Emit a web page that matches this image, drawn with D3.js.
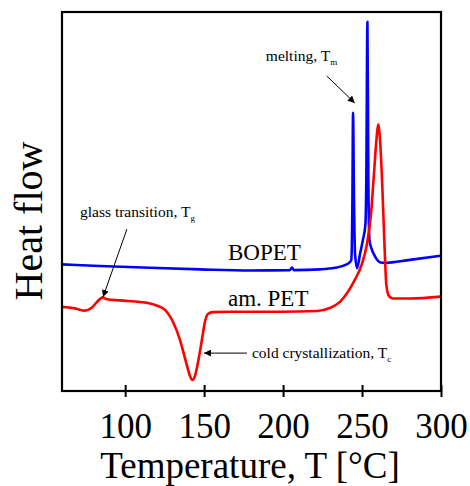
<!DOCTYPE html>
<html>
<head>
<meta charset="utf-8">
<script src="https://cdn.jsdelivr.net/npm/d3@7"></script>
<style>
  html, body { margin: 0; padding: 0; background: #fff; }
  svg { display: block; }
  text { font-family: "Liberation Serif", "Times New Roman", serif; fill: #000; }
</style>
</head>
<body>
<svg id="chart" width="470" height="486"></svg>
<script>
// DSC heating scans: heat flow (arbitrary units, endo up) vs temperature (°C)
const bopetTemp = [60, 84, 115.7, 147.3, 179, 204.3, 205.6, 206.8, 223.3, 232.8, 239.1, 242.3,
  243.2, 243.9, 244.3, 244.9, 245.6, 246.9, 248.6, 250.5, 252.1, 252.7, 253.4, 254.0, 254.7,
  255.9, 258.1, 261.3, 264.4, 280.3, 299.9];
const bopetFlow = [33.4, 33.0, 32.5, 32.1, 31.8, 31.9, 32.6, 31.9, 32.1, 32.5, 33.2, 34.0,
  34.6, 50.4, 73.4, 50.4, 35.9, 32.4, 35.9, 39.8, 43.8, 55.7, 97.4, 55.7, 39.8,
  37.7, 35.6, 34.0, 33.8, 34.6, 35.7];

const petTemp = [60, 68.2, 74.6, 79, 82.2, 85.8, 87.8, 96.7, 109.4, 118.9, 125.2, 130.3, 134.7,
  138.5, 141.0, 142.6, 144.2, 146.4, 148.6, 150.5, 152.4, 155.6, 166.3, 198, 221.4, 229.6,
  236.0, 241.0, 245.4, 249.9, 253, 255.6, 257.5, 259.1, 260.2, 261.6, 262.8, 264.1, 265.4,
  267, 269.5, 280.3, 299.9];
const petFlow = [22.2, 21.8, 21.2, 22.0, 23.5, 24.7, 24.3, 23.9, 23.5, 22.7, 21.4, 18.2, 13.5,
  7.7, 4.0, 2.9, 4.0, 8.2, 13.5, 18.2, 20.3, 20.8, 20.9, 20.9, 21.1, 21.9,
  23.5, 26.1, 29.3, 33.5, 38.5, 46.4, 57.0, 66.2, 70.4, 64.9, 54.4, 39.8, 28.0,
  25.1, 24.4, 24.4, 24.9];

const xTicks = [100, 150, 200, 250, 300];
const seriesNames = ["BOPET", "am. PET"];
const seriesColors = ["#0000ff", "#ff0000"];

const W = 470, H = 486;
const margin = { top: 12, right: 29, bottom: 95, left: 62 };
const innerW = W - margin.left - margin.right;
const innerH = H - margin.top - margin.bottom;

const svg = d3.select("#chart");
const g = svg.append("g").attr("transform", `translate(${margin.left},${margin.top})`);

const x = d3.scaleLinear().domain([60, 300]).range([0, innerW]);
const y = d3.scaleLinear().domain([0, 100]).range([innerH, 0]);

const line = d3.line()
  .x(d => x(d[0]))
  .y(d => y(d[1]))
  .curve(d3.curveMonotoneX);

const series = [
  d3.zip(bopetTemp, bopetFlow),
  d3.zip(petTemp, petFlow)
];

g.selectAll("path.trace")
  .data(series)
  .join("path")
  .attr("class", "trace")
  .attr("d", line)
  .attr("fill", "none")
  .attr("stroke", (d, i) => seriesColors[i])
  .attr("stroke-width", 2.6)
  .attr("stroke-linejoin", "round");

// Frame
g.append("rect")
  .attr("x", 0).attr("y", 0)
  .attr("width", innerW).attr("height", innerH)
  .attr("fill", "none")
  .attr("stroke", "#000")
  .attr("stroke-width", 2.2);

// Bottom axis: ticks cross the axis line
const xAxis = g.append("g")
  .attr("transform", `translate(0,${innerH})`)
  .call(d3.axisBottom(x).tickValues(xTicks).tickSize(0).tickPadding(0).tickFormat(d3.format("d")));
xAxis.select(".domain").remove();
xAxis.selectAll(".tick line")
  .attr("y1", -6).attr("y2", 6)
  .attr("stroke", "#000").attr("stroke-width", 2);
xAxis.selectAll(".tick text")
  .attr("y", 47)
  .attr("dy", null)
  .style("font-family", "'Liberation Serif', 'Times New Roman', serif")
  .style("font-size", "35px")
  .attr("fill", "#000");

// Axis titles
svg.append("text")
  .attr("x", 250)
  .attr("y", 478)
  .attr("text-anchor", "middle")
  .style("font-size", "37px")
  .text("Temperature, T [°C]");

svg.append("text")
  .attr("transform", "translate(42,221) rotate(-90)")
  .attr("text-anchor", "middle")
  .style("font-size", "40px")
  .text("Heat flow");

// Series labels
const labelTemp = [165.1, 165.1];
const labelFlow = [34.6, 22.4];
g.selectAll("text.series-label")
  .data(seriesNames)
  .join("text")
  .attr("class", "series-label")
  .attr("x", (d, i) => x(labelTemp[i]))
  .attr("y", (d, i) => y(labelFlow[i]))
  .style("font-size", "23px")
  .text(d => d);

// Arrow annotations
svg.append("defs").append("marker")
  .attr("id", "arrow")
  .attr("viewBox", "0 0 10 10")
  .attr("refX", 10).attr("refY", 5)
  .attr("markerWidth", 7).attr("markerHeight", 7)
  .attr("markerUnits", "userSpaceOnUse")
  .attr("orient", "auto")
  .append("path")
  .attr("d", "M0,0 L10,5 L0,10 z")
  .attr("fill", "#000");

const annotations = [
  { main: "melting, T", sub: "m", tx: 189.1, ty: 87.1, from: [227.7, 83.1], to: [245.4, 76.0] },
  { main: "glass transition, T", sub: "g", tx: 71.4, ty: 45.9, from: [101.1, 42.7], to: [86.0, 24.8] },
  { main: "cold crystallization, T", sub: "c", tx: 180.3, ty: 8.7, from: [177.1, 10.0], to: [149.9, 10.0] }
];

annotations.forEach(a => {
  g.append("line")
    .attr("x1", x(a.from[0])).attr("y1", y(a.from[1]))
    .attr("x2", x(a.to[0])).attr("y2", y(a.to[1]))
    .attr("stroke", "#000").attr("stroke-width", 1)
    .attr("marker-end", "url(#arrow)");
  const t = g.append("text")
    .attr("x", x(a.tx)).attr("y", y(a.ty))
    .style("font-size", "15.5px");
  t.append("tspan").text(a.main);
  t.append("tspan").attr("dy", 4).style("font-size", "9px").text(a.sub);
});
</script>
</body>
</html>
